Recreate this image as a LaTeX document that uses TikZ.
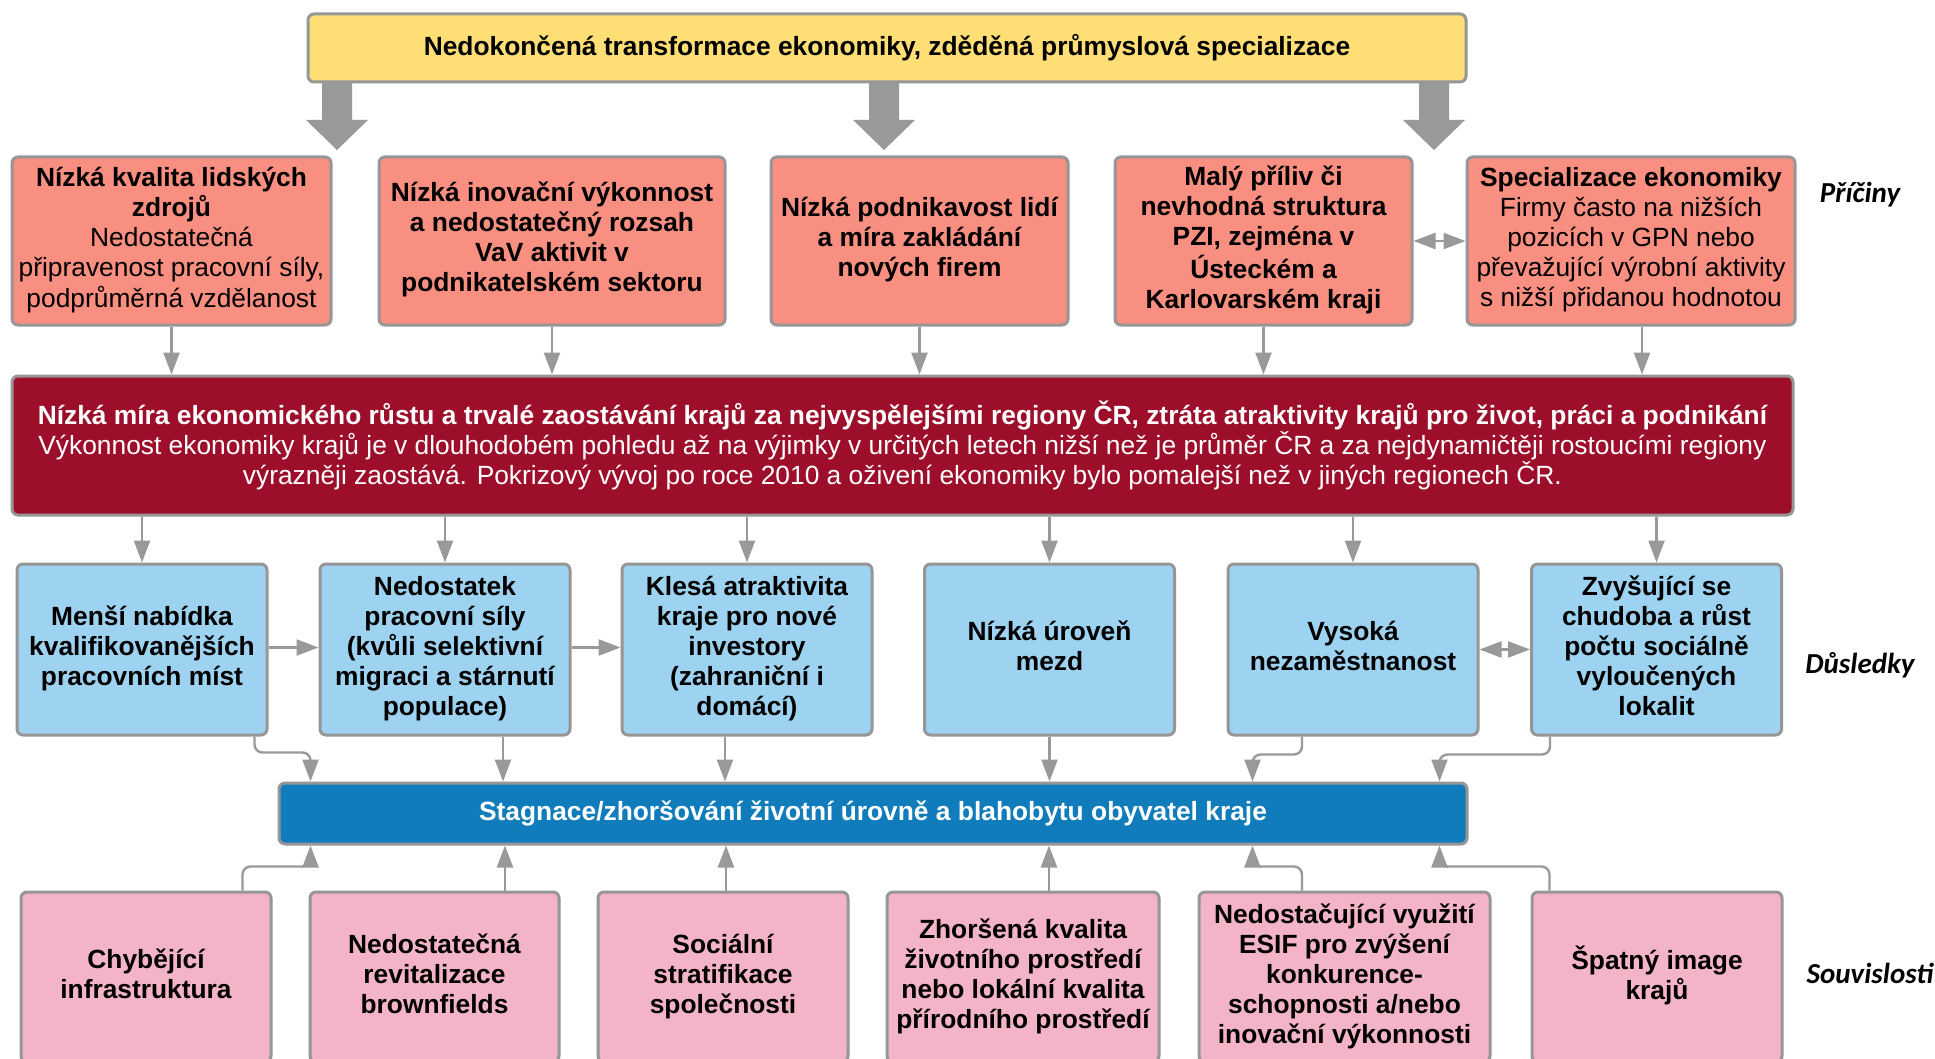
\documentclass[tikz,border=0pt]{standalone}
\usepackage{fontspec}
\setmainfont{Liberation Sans}
\newfontfamily\lblfont{Carlito}
\usetikzlibrary{arrows.meta,calc}
\definecolor{cyellow}{RGB}{255,222,117}
\definecolor{csalmon}{RGB}{249,143,128}
\definecolor{cdarkred}{RGB}{156,14,42}
\definecolor{clblue}{RGB}{157,211,240}
\definecolor{cbar}{RGB}{16,124,188}
\definecolor{cpink}{RGB}{244,180,199}
\definecolor{cborder}{RGB}{150,150,150}
\definecolor{carrow}{RGB}{153,153,153}
\newcommand\liftlines[2]{\raisebox{#1}{\begin{tabular}{@{}c@{}}#2\end{tabular}}}
\begin{document}
\begin{tikzpicture}[x=1pt,y=-1pt,
  box/.style={draw=cborder, line width=3pt, rounded corners=6pt, align=center,
    inner sep=0pt, font=\fontsize{26.35}{30}\selectfont\bfseries},
  causebox/.style={box, fill=csalmon, minimum height=168pt},
  effbox/.style={box, fill=clblue, minimum width=250pt, minimum height=171pt},
  ctxbox/.style={box, fill=cpink, minimum height=170pt},
  conn/.style={draw=carrow, line width=2.4pt, rounded corners=8pt,
    -{Triangle[length=22pt,width=16pt]}},
  dconn/.style={draw=carrow, line width=2.4pt,
    {Triangle[length=22pt,width=16pt]}-{Triangle[length=22pt,width=16pt]}},
  lbl/.style={font=\fontsize{29}{32}\selectfont\lblfont\bfseries\itshape, inner sep=0pt}
]
\useasboundingbox (0,0) rectangle (1935,1059);
\clip (0,0) rectangle (1935,1059);
\fill[white] (0,0) rectangle (1935,1059);

% top
\node[box, fill=cyellow, minimum width=1158pt, minimum height=68pt] (Y) at (887,48)
  {Nedokončená transformace ekonomiky, zděděná průmyslová specializace};

% causes
\node[causebox, minimum width=319pt] (R1) at (171.5,241)
  {\liftlines{3pt}{Nízká kvalita lidských\\zdrojů\\\mdseries Nedostatečná\\\mdseries připravenost pracovní síly,\\\mdseries podprůměrná vzdělanost}};
\node[causebox, minimum width=346pt] (R2) at (552,241)
  {\liftlines{2pt}{Nízká inovační výkonnost\\a nedostatečný rozsah\\VaV aktivit v\\podnikatelském sektoru}};
\node[causebox, minimum width=297pt] (R3) at (919.5,241)
  {\liftlines{3pt}{Nízká podnikavost lidí\\a míra zakládání\\nových firem}};
\node[causebox, minimum width=297pt] (R4) at (1263.5,241)
  {\liftlines{2pt}{Malý příliv či\\nevhodná struktura\\PZI, zejména v\\Ústeckém a\\Karlovarském kraji}};
\node[causebox, minimum width=328pt] (R5) at (1631,241)
  {\liftlines{3pt}{Specializace ekonomiky\\\mdseries Firmy často na nižších\\\mdseries pozicích v GPN nebo\\\mdseries převažující výrobní aktivity\\\mdseries s nižší přidanou hodnotou}};

% central problem
\node[box, fill=cdarkred, text=white, minimum width=1781pt, minimum height=139pt] (D) at (902.5,445.5)
  {Nízká míra ekonomického růstu a trvalé zaostávání krajů za nejvyspělejšími regiony ČR, ztráta atraktivity krajů pro život, práci a podnikání\\
   \mdseries Výkonnost ekonomiky krajů je v dlouhodobém pohledu až na výjimky v určitých letech nižší než je průměr ČR a za nejdynamičtěji rostoucími regiony\\
   \mdseries výrazněji zaostává. Pokrizový vývoj po roce 2010 a oživení ekonomiky bylo pomalejší než v jiných regionech ČR.};

% effects
\node[effbox] (B1) at (142,649.5) {\liftlines{4pt}{Menší nabídka\\kvalifikovanějších\\pracovních míst}};
\node[effbox] (B2) at (445,649.5) {\liftlines{4pt}{Nedostatek\\pracovní síly\\(kvůli selektivní\\migraci a stárnutí\\populace)}};
\node[effbox] (B3) at (747,649.5) {\liftlines{4pt}{Klesá atraktivita\\kraje pro nové\\investory\\(zahraniční i\\domácí)}};
\node[effbox] (B4) at (1049.5,649.5) {\liftlines{4pt}{Nízká úroveň\\mezd}};
\node[effbox] (B5) at (1353,649.5) {\liftlines{4pt}{Vysoká\\nezaměstnanost}};
\node[effbox] (B6) at (1656.5,649.5) {\liftlines{4pt}{Zvyšující se\\chudoba a růst\\počtu sociálně\\vyloučených\\lokalit}};

% bar
\node[box, fill=cbar, text=white, minimum width=1188pt, minimum height=61pt] (S) at (873,813.5)
  {Stagnace/zhoršování životní úrovně a blahobytu obyvatel kraje};

% context
\node[ctxbox, minimum width=250pt] (P1) at (146,977) {\liftlines{5pt}{Chybějící\\infrastruktura}};
\node[ctxbox, minimum width=249pt] (P2) at (434.5,977) {\liftlines{5pt}{Nedostatečná\\revitalizace\\brownfields}};
\node[ctxbox, minimum width=250pt] (P3) at (723,977) {\liftlines{5pt}{Sociální\\stratifikace\\společnosti}};
\node[ctxbox, minimum width=272pt] (P4) at (1023,977) {\liftlines{5pt}{Zhoršená kvalita\\životního prostředí\\nebo lokální kvalita\\přírodního prostředí}};
\node[ctxbox, minimum width=291pt] (P5) at (1344.5,977) {\liftlines{5pt}{Nedostačující využití\\ESIF pro zvýšení\\konkurence-\\schopnosti a/nebo\\inovační výkonnosti}};
\node[ctxbox, minimum width=250pt] (P6) at (1657,977) {\liftlines{5pt}{Špatný image\\krajů}};

% labels
\node[lbl] (LP) at (1860,195) {Příčiny};
\node[lbl] (LD) at (1860,665) {Důsledky};
\node[lbl, fill=white, minimum height=52pt] (LS) at (1870,973) {Souvislosti};

% big block arrows from the top box
\foreach \x in {337,884,1434} {
  \fill[carrow] (\x-15,83) -- (\x+15,83) -- (\x+15,120) -- (\x+31,120) -- (\x,150)
    -- (\x-31,120) -- (\x-15,120) -- cycle;
}

% causes -> central problem
\foreach \n in {R1,R2,R3,R4} {
  \draw[conn] (\n.south) -- (\n.south |- D.north);
}
\draw[conn] ([xshift=11pt]R5.south) -- ([xshift=11pt]R5.south |- D.north);
\draw[dconn] (R4.east) -- (R5.west);

% central problem -> effects
\foreach \n in {B1,B2,B3,B4,B5,B6} {
  \draw[conn] (\n.north |- D.south) -- (\n.north);
}
\draw[conn] ([yshift=2pt]B1.east) -- ([yshift=2pt]B2.west);
\draw[conn] ([yshift=2pt]B2.east) -- ([yshift=2pt]B3.west);
\draw[dconn] (B5.east) -- (B6.west);

% effects -> bar
\draw[conn] ([xshift=-14pt]B1.south east) -- ++(0,16) -| ([xshift=33pt]S.north west);
\draw[conn] ([xshift=58pt]B2.south) -- ([xshift=58pt]B2.south |- S.north);
\draw[conn] ([xshift=-22pt]B3.south) -- ([xshift=-22pt]B3.south |- S.north);
\draw[conn] (B4.south) -- (B4.south |- S.north);
\draw[conn] ([xshift=-51pt]B5.south) -- ++(0,18) -| ([xshift=-216pt]S.north east);
\draw[conn] ([xshift=20pt]B6.south west) -- ++(0,18) -| ([xshift=-29pt]S.north east);

% context -> bar
\draw[conn] ([xshift=223pt]P1.north west) -- ++(0,-24) -| ([xshift=33pt]S.south west);
\draw[conn] ([xshift=70.5pt]P2.north) -- ([xshift=70.5pt]P2.north |- S.south);
\draw[conn] ([xshift=3pt]P3.north) -- ([xshift=3pt]P3.north |- S.south);
\draw[conn] ([xshift=26pt]P4.north) -- ([xshift=26pt]P4.north |- S.south);
\draw[conn] ([xshift=-42.5pt]P5.north) -- ++(0,-24) -| ([xshift=-216pt]S.south east);
\draw[conn] ([xshift=19pt]P6.north west) -- ++(0,-24) -| ([xshift=-29pt]S.south east);
\end{tikzpicture}
\end{document}
